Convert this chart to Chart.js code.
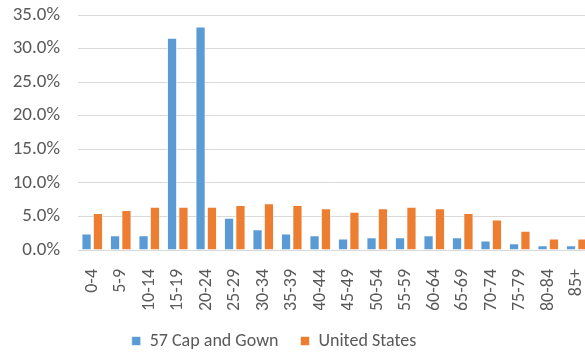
<!DOCTYPE html>
<html>
<head>
<meta charset="utf-8">
<script src="https://cdn.jsdelivr.net/npm/chart.js@4/dist/chart.umd.min.js"></script>
<style>
  html, body { margin: 0; padding: 0; background: #fff; overflow: hidden; }
  #wrap { width: 600px; height: 354px; position: relative; }
</style>
</head>
<body>
<div id="wrap"><canvas id="chart"></canvas></div>
<script>
const ageGroups = ['0-4', '5-9', '10-14', '15-19', '20-24', '25-29', '30-34', '35-39', '40-44',
    '45-49', '50-54', '55-59', '60-64', '65-69', '70-74', '75-79', '80-84', '85+'];
const capAndGown = [2.45, 2.2, 2.2, 31.6, 33.3, 4.8, 3.1, 2.45, 2.2, 1.7, 1.9, 1.9, 2.2, 1.9, 1.4, 1.0, 0.7, 0.7];
const unitedStates = [5.5, 5.95, 6.45, 6.45, 6.45, 6.7, 6.95, 6.7, 6.2, 5.7, 6.2, 6.45, 6.2, 5.5, 4.55, 2.85, 1.7, 1.7];
const yTicks = [0, 5, 10, 15, 20, 25, 30, 35];

const textColor = '#595959';
const fontFamily = 'Carlito, Lato, sans-serif';

// the legend sits a little left of the canvas centre in the original
const legendShift = {
    id: 'legendShift',
    afterLayout(chart) {
        chart.legend.right = 548;
    }
};

new Chart(document.getElementById('chart'), {
    type: 'bar',
    data: {
        labels: ageGroups,
        datasets: [{
            label: '57 Cap and Gown',
            data: capAndGown,
            backgroundColor: '#5B9BD5',
            borderColor: 'rgba(255,255,255,0.6)',
            borderWidth: 1
        }, {
            label: 'United States',
            data: unitedStates,
            backgroundColor: '#ED7D31',
            borderColor: 'rgba(255,255,255,0.6)',
            borderWidth: 1
        }]
    },
    options: {
        responsive: true,
        maintainAspectRatio: false,
        animation: false,
        categoryPercentage: 0.8,
        barPercentage: 0.9,
        layout: {
            padding: { top: 15, right: 9, bottom: -6, left: 0 }
        },
        scales: {
            x: {
                grid: { display: false },
                border: { color: '#d9d9d9' },
                ticks: {
                    color: textColor,
                    font: { family: fontFamily, size: 18 },
                    maxRotation: 90,
                    minRotation: 90,
                    autoSkip: false,
                    padding: 11
                },
                afterFit: (scale) => {
                    scale.height = 60;
                    scale.paddingLeft = 0;
                    scale.paddingRight = 0;
                }
            },
            y: {
                min: 0,
                max: 35,
                afterBuildTicks: (scale) => {
                    scale.ticks = yTicks.map(v => ({ value: v }));
                },
                grid: { color: '#d9d9d9', drawTicks: false },
                border: { display: false },
                ticks: {
                    color: textColor,
                    font: { family: fontFamily, size: 19 },
                    padding: 18,
                    callback: (v) => v.toFixed(1) + '%'
                },
                afterFit: (scale) => {
                    scale.width = 78;
                    scale.paddingTop = 0;
                    scale.paddingBottom = 0;
                }
            }
        },
        plugins: {
            legend: {
                position: 'bottom',
                labels: {
                    color: textColor,
                    font: { family: fontFamily, size: 18 },
                    boxWidth: 9,
                    boxHeight: 9,
                    padding: 22
                }
            },
            tooltip: { enabled: false }
        }
    },
    plugins: [legendShift]
});
</script>
</body>
</html>
